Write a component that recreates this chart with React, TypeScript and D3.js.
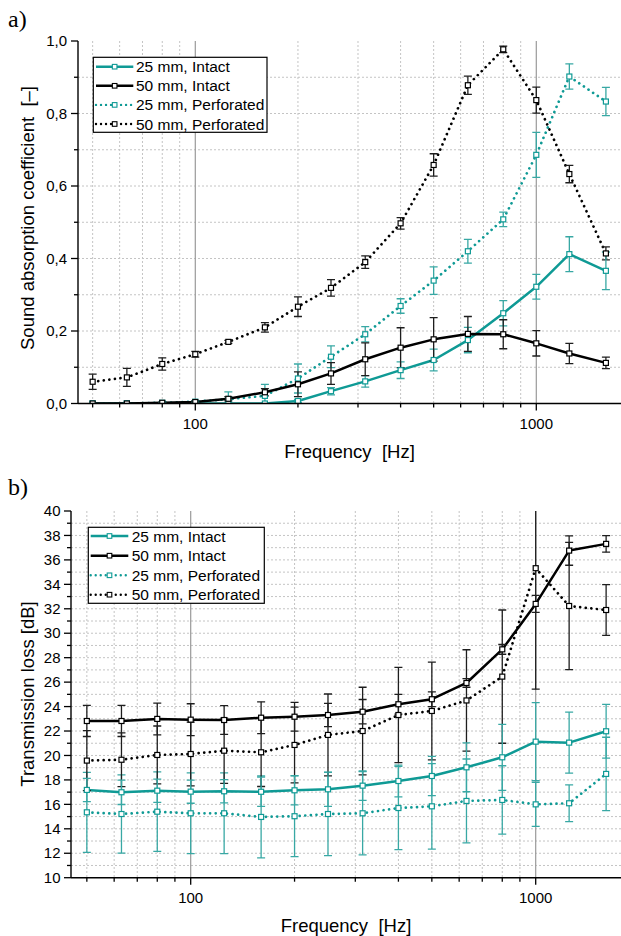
import React from 'react';
import * as d3 from 'd3';

// ---------- data ----------
const freqs = [50, 63, 80, 100, 125, 160, 200, 250, 315, 400, 500, 630, 800, 1000, 1250, 1600];

// a) Sound absorption coefficient
const abs25Intact = [0, 0, 0, 0, 0, 0, 0.007, 0.034, 0.061, 0.092, 0.12, 0.175, 0.249, 0.322, 0.412, 0.366];
const abs25IntactErr = [0, 0, 0, 0, 0.002, 0.002, 0.004, 0.01, 0.016, 0.023, 0.03, 0.035, 0.035, 0.034, 0.048, 0.052];
const abs50Intact = [0, 0, 0.002, 0.004, 0.013, 0.031, 0.053, 0.083, 0.122, 0.154, 0.177, 0.192, 0.191, 0.166, 0.138, 0.112];
const abs50IntactErr = [0, 0, 0.002, 0.003, 0.006, 0.01, 0.034, 0.03, 0.045, 0.055, 0.06, 0.048, 0.04, 0.035, 0.028, 0.016];
const abs25Perf = [0, 0, 0.002, 0.005, 0.012, 0.021, 0.069, 0.129, 0.191, 0.269, 0.339, 0.42, 0.508, 0.686, 0.902, 0.833];
const abs25PerfErr = [0, 0, 0.002, 0.003, 0.02, 0.032, 0.04, 0.03, 0.021, 0.02, 0.038, 0.033, 0.02, 0.062, 0.035, 0.039];
const abs50Perf = [0.06, 0.072, 0.109, 0.136, 0.17, 0.21, 0.267, 0.319, 0.39, 0.497, 0.658, 0.878, 0.977, 0.837, 0.633, 0.414];
const abs50PerfErr = [0.021, 0.025, 0.017, 0.008, 0.004, 0.013, 0.027, 0.023, 0.017, 0.016, 0.031, 0.025, 0.009, 0.036, 0.024, 0.018];

// b) Transmission loss
const tl25Intact = [17.18, 16.99, 17.12, 17.04, 17.07, 17.03, 17.15, 17.23, 17.53, 17.91, 18.32, 19.03, 19.85, 21.13, 21.05, 21.98];
const tl25IntactErr = [0.95, 1.0, 0.95, 0.95, 0.95, 1.2, 1.2, 1.4, 1.2, 1.3, 1.6, 2.0, 2.7, 3.2, 2.5, 2.2];
const tl50Intact = [22.82, 22.82, 22.99, 22.93, 22.9, 23.09, 23.17, 23.31, 23.58, 24.19, 24.6, 25.93, 28.68, 32.4, 36.76, 37.31];
const tl50IntactErr = [1.27, 1.27, 1.3, 1.3, 1.17, 1.3, 1.18, 0.95, 1.0, 0.8, 0.6, 0.35, 0.4, 0.7, 1.2, 0.68];
const tl25Perf = [15.35, 15.21, 15.4, 15.27, 15.27, 14.97, 15.03, 15.21, 15.27, 15.7, 15.84, 16.28, 16.36, 16.0, 16.09, 18.49];
const tl25PerfErr = [3.27, 3.2, 3.25, 3.3, 3.3, 3.35, 3.3, 3.4, 3.4, 3.4, 3.5, 3.43, 2.8, 1.8, 1.5, 3.0];
const tl50Perf = [19.58, 19.65, 20.04, 20.12, 20.39, 20.26, 20.86, 21.68, 22.0, 23.31, 23.64, 24.5, 26.45, 35.32, 32.23, 31.9];
const tl50PerfErr = [2.45, 2.2, 2.37, 2.6, 2.67, 2.8, 3.1, 3.35, 3.58, 3.9, 4.0, 4.15, 5.45, 9.9, 5.2, 2.07];

const seriesNames = ['25 mm, Intact', '50 mm, Intact', '25 mm, Perforated', '50 mm, Perforated'];

const absMajor = [0, 0.2, 0.4, 0.6, 0.8, 1.0];
const absMinor = [0.1, 0.3, 0.5, 0.7, 0.9];
const tlMajor = [10, 12, 14, 16, 18, 20, 22, 24, 26, 28, 30, 32, 34, 36, 38, 40];
const tlMinor = [11, 13, 15, 17, 19, 21, 23, 25, 27, 29, 31, 33, 35, 37, 39];
const xMajor = [100, 1000];
const xMinor = [50, 60, 70, 80, 90, 200, 300, 400, 500, 600, 700, 800, 900];

// ---------- style ----------
const TEAL = '#0f9a95';
const TEAL_ERR = '#38a8a4';
const BLACK = '#000000';
const BLACK_ERR = '#1e1e1e';
const SANS = '"Liberation Sans", Arial, Helvetica, sans-serif';
const SERIF = '"Liberation Serif", "DejaVu Serif", serif';

type Series = { name: string; values: number[]; errors: number[]; color: string; errColor: string; dotted: boolean };

type PanelProps = {
  id: string;
  label: string;
  labelY: number;
  x100: number;
  x1000: number;
  left: number;
  right: number;
  top: number;
  bottom: number;
  yDomain: [number, number];
  yMajor: number[];
  yMinor: number[];
  yFormat: (v: number) => string;
  yLabelRight: number;
  yTitle: string;
  yTitleCenter: number;
  series: Series[];
  legend: { x0: number; x1: number; y0: number; y1: number; lineX0: number; lineX1: number; textX: number; rows: number[] };
};

function Panel(p: PanelProps) {
  const x = d3.scaleLog().domain([100, 1000]).range([p.x100, p.x1000]);
  const y = d3.scaleLinear().domain(p.yDomain).range([p.bottom, p.top]);
  const lineGen = (vals: number[]) =>
    d3.line<number>().x((_, i) => x(freqs[i])).y((d) => y(d)).curve(d3.curveLinear)(vals) || '';
  const ms = 5;
  const cap = 4;
  const gridMinorY = p.yMinor.concat(p.yMajor).filter((v) => v > p.yDomain[0] && v < p.yDomain[1]);
  const xMid = (p.left + p.right) / 2;
  // draw order: perforated first, intact on top
  const drawOrder = [2, 3, 0, 1].map((k) => p.series[k]);

  return (
    <g>
      <defs>
        <clipPath id={p.id}>
          <rect x={p.left} y={p.top} width={p.right - p.left} height={p.bottom - p.top} />
        </clipPath>
      </defs>
      <text x={8} y={p.labelY} fontFamily={SERIF} fontSize={24} fill="#000">{p.label}</text>

      {/* grid */}
      <g>
        {gridMinorY.map((v) => (
          <line key={'gy' + v} x1={p.left} x2={p.right} y1={y(v)} y2={y(v)} stroke="#c4c4c4" strokeWidth={1} strokeDasharray="2,2" />
        ))}
        {xMinor.map((f) => (
          <line key={'gx' + f} x1={x(f)} x2={x(f)} y1={p.top} y2={p.bottom} stroke="#c4c4c4" strokeWidth={1} strokeDasharray="2,2" />
        ))}
        {xMajor.map((f) => (
          <line key={'gX' + f} x1={x(f)} x2={x(f)} y1={p.top} y2={p.bottom} stroke="#9a9a9a" strokeWidth={1.2} />
        ))}
      </g>

      {/* data */}
      <g clipPath={`url(#${p.id})`}>
        {drawOrder.map((s) => (
          <path key={'l' + s.name} d={lineGen(s.values)} fill="none" stroke={s.color}
            strokeWidth={s.dotted ? 2.7 : 2.5}
            strokeDasharray={s.dotted ? '0.01,5.6' : undefined}
            strokeLinecap={s.dotted ? 'round' : 'butt'} strokeLinejoin="round" />
        ))}
        {drawOrder.map((s) => (
          <g key={'e' + s.name} stroke={s.errColor} strokeWidth={1.3}>
            {s.values.map((v, i) => {
              const e = s.errors[i];
              if (e <= 0) return null;
              const cx = x(freqs[i]);
              return (
                <g key={i}>
                  <line x1={cx} x2={cx} y1={y(v + e)} y2={y(v - e)} />
                  <line x1={cx - cap} x2={cx + cap} y1={y(v + e)} y2={y(v + e)} />
                  <line x1={cx - cap} x2={cx + cap} y1={y(v - e)} y2={y(v - e)} />
                </g>
              );
            })}
          </g>
        ))}
        {drawOrder.map((s) => (
          <g key={'m' + s.name}>
            {s.values.map((v, i) => (
              <rect key={i} x={x(freqs[i]) - ms / 2} y={y(v) - ms / 2} width={ms} height={ms}
                fill="#fff" stroke={s.color} strokeWidth={1.2} />
            ))}
          </g>
        ))}
      </g>

      {/* axes */}
      <line x1={p.left} x2={p.left} y1={p.top} y2={p.bottom} stroke="#000" strokeWidth={1.4} />
      <line x1={p.left} x2={p.right} y1={p.bottom} y2={p.bottom} stroke="#000" strokeWidth={1.4} />
      {p.yMajor.map((v) => (
        <g key={'ty' + v}>
          <line x1={p.left - 7} x2={p.left} y1={y(v)} y2={y(v)} stroke="#000" strokeWidth={1.3} />
          <text x={p.yLabelRight} y={y(v) + 5.2} textAnchor="end" fontFamily={SANS} fontSize={15} fill="#000">{p.yFormat(v)}</text>
        </g>
      ))}
      {p.yMinor.map((v) => (
        <line key={'tym' + v} x1={p.left - 4} x2={p.left} y1={y(v)} y2={y(v)} stroke="#000" strokeWidth={1.3} />
      ))}
      {xMajor.map((f) => (
        <g key={'tx' + f}>
          <line x1={x(f)} x2={x(f)} y1={p.bottom} y2={p.bottom + 7} stroke="#000" strokeWidth={1.3} />
          <text x={x(f)} y={p.bottom + 25.5} textAnchor="middle" fontFamily={SANS} fontSize={15} fill="#000">{String(f)}</text>
        </g>
      ))}
      {xMinor.map((f) => (
        <line key={'txm' + f} x1={x(f)} x2={x(f)} y1={p.bottom} y2={p.bottom + 4} stroke="#000" strokeWidth={1.3} />
      ))}
      <text x={xMid} y={p.bottom + 54.5} textAnchor="middle" fontFamily={SANS} fontSize={18.5} fill="#000" style={{ whiteSpace: 'pre' }}>Frequency  [Hz]</text>
      <text transform={`translate(34,${p.yTitleCenter}) rotate(-90)`} textAnchor="middle" fontFamily={SANS} fontSize={18.5} fill="#000" style={{ whiteSpace: 'pre' }}>{p.yTitle}</text>

      {/* legend */}
      <g>
        <rect x={p.legend.x0} y={p.legend.y0} width={p.legend.x1 - p.legend.x0} height={p.legend.y1 - p.legend.y0} fill="#fff" stroke="#000" strokeWidth={1.2} />
        {p.series.map((s, i) => {
          const ry = p.legend.rows[i];
          const mx = (p.legend.lineX0 + p.legend.lineX1) / 2;
          return (
            <g key={'lg' + s.name}>
              <line x1={p.legend.lineX0} x2={p.legend.lineX1} y1={ry} y2={ry} stroke={s.color}
                strokeWidth={s.dotted ? 2.4 : 2.6} strokeDasharray={s.dotted ? '0.01,5' : undefined}
                strokeLinecap={s.dotted ? 'round' : 'butt'} />
              <rect x={mx - 2.3} y={ry - 2.3} width={4.6} height={4.6} fill="#fff" stroke={s.color} strokeWidth={1.1} />
              <text x={p.legend.textX} y={ry + 5.5} fontFamily={SANS} fontSize={15.5} fill="#000">{s.name}</text>
            </g>
          );
        })}
      </g>
    </g>
  );
}

// series in legend order: 25 intact, 50 intact, 25 perforated, 50 perforated
function makeSeries(vals: number[][], errs: number[][]): Series[] {
  const colors = [TEAL, BLACK, TEAL, BLACK];
  const errColors = [TEAL_ERR, BLACK_ERR, TEAL_ERR, BLACK_ERR];
  const dotted = [false, false, true, true];
  return seriesNames.map((name, k) => ({
    name,
    values: vals[k],
    errors: errs[k],
    color: colors[k],
    errColor: errColors[k],
    dotted: dotted[k],
  }));
}

export default function App() {
  const absSeries = makeSeries([abs25Intact, abs50Intact, abs25Perf, abs50Perf], [abs25IntactErr, abs50IntactErr, abs25PerfErr, abs50PerfErr]);
  const tlSeries = makeSeries([tl25Intact, tl50Intact, tl25Perf, tl50Perf], [tl25IntactErr, tl50IntactErr, tl25PerfErr, tl50PerfErr]);
  const commaFmt = (v: number) => v.toFixed(1).replace('.', ',');

  return (
    <svg width={621} height={936} viewBox="0 0 621 936" style={{ position: 'absolute', left: 0, top: 0, background: '#fff' }}>
      <rect x={0} y={0} width={621} height={936} fill="#fff" />
      <Panel id="clipA" label="a)" labelY={27} x100={195.3} x1000={536.3} left={78} right={621} top={41} bottom={403.5}
        yDomain={[0, 1]} yMajor={absMajor} yMinor={absMinor} yFormat={commaFmt} yLabelRight={67}
        yTitle={'Sound absorption coefficient  [–]'} yTitleCenter={218}
        series={absSeries}
        legend={{ x0: 93.3, x1: 267, y0: 57.3, y1: 132.3, lineX0: 96, lineX1: 133.3, textX: 136, rows: [66.7, 85.8, 104.9, 124] }} />
      <Panel id="clipB" label="b)" labelY={495} x100={190.7} x1000={535.7} left={71} right={621} top={511} bottom={877.7}
        yDomain={[10, 40]} yMajor={tlMajor} yMinor={tlMinor} yFormat={(v) => String(v)} yLabelRight={60.5}
        yTitle={'Transmission loss [dB]'} yTitleCenter={694}
        series={tlSeries}
        legend={{ x0: 88.3, x1: 264.3, y0: 527.3, y1: 603.3, lineX0: 90.7, lineX1: 128.3, textX: 131.7, rows: [536, 555.7, 575.3, 594.7] }} />
    </svg>
  );
}
